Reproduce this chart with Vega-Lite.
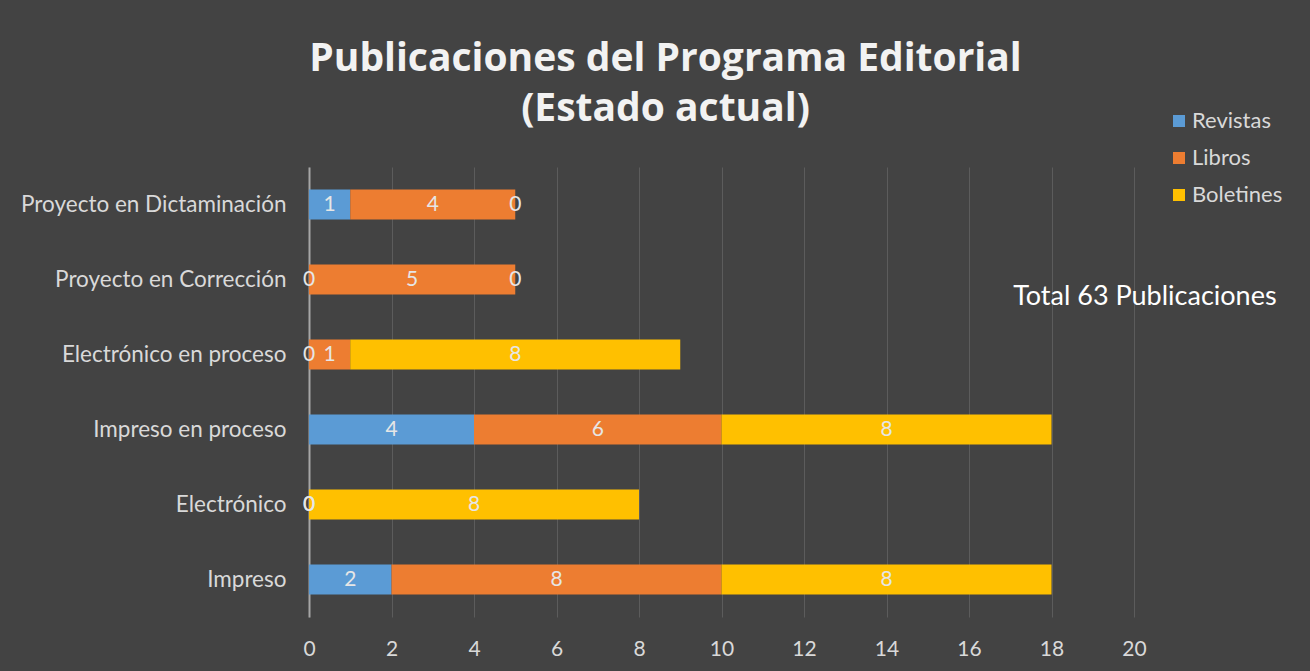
{
  "$schema": "https://vega.github.io/schema/vega-lite/v6.json",
  "width": 825,
  "height": 450,
  "autosize": {"type": "none"},
  "padding": {"left": 309, "top": 167, "right": 176, "bottom": 54},
  "background": "#434343",
  "title": {
    "text": ["Publicaciones del Programa Editorial", "(Estado actual)"],
    "font": "Open Sans",
    "fontWeight": "bold",
    "fontSize": 39,
    "color": "#f2f2f2",
    "anchor": "middle",
    "dx": -56,
    "dy": 59,
    "offset": 40,
    "lineHeight": 50
  },
  "config": {
    "view": {"stroke": null},
    "font": "Lato"
  },
  "layer": [
    {
      "data": {
        "values": [
          {"estado": "Proyecto en Dictaminación", "serie": "Revistas", "value": 1},
          {"estado": "Proyecto en Dictaminación", "serie": "Libros", "value": 4},
          {"estado": "Proyecto en Dictaminación", "serie": "Boletines", "value": 0},
          {"estado": "Proyecto en Corrección", "serie": "Revistas", "value": 0},
          {"estado": "Proyecto en Corrección", "serie": "Libros", "value": 5},
          {"estado": "Proyecto en Corrección", "serie": "Boletines", "value": 0},
          {"estado": "Electrónico en proceso", "serie": "Revistas", "value": 0},
          {"estado": "Electrónico en proceso", "serie": "Libros", "value": 1},
          {"estado": "Electrónico en proceso", "serie": "Boletines", "value": 8},
          {"estado": "Impreso en proceso", "serie": "Revistas", "value": 4},
          {"estado": "Impreso en proceso", "serie": "Libros", "value": 6},
          {"estado": "Impreso en proceso", "serie": "Boletines", "value": 8},
          {"estado": "Electrónico", "serie": "Revistas", "value": 0},
          {"estado": "Electrónico", "serie": "Libros", "value": 0},
          {"estado": "Electrónico", "serie": "Boletines", "value": 8},
          {"estado": "Impreso", "serie": "Revistas", "value": 2},
          {"estado": "Impreso", "serie": "Libros", "value": 8},
          {"estado": "Impreso", "serie": "Boletines", "value": 8}
        ]
      },
      "transform": [
        {"stack": "value", "groupby": ["estado"], "sort": [{"field": "serie", "order": "descending"}], "as": ["v0", "v1"]},
        {"calculate": "(datum.v0 + datum.v1) / 2", "as": "mid"}
      ],
      "layer": [
        {
          "mark": {"type": "bar"},
          "encoding": {
            "y": {
              "field": "estado",
              "type": "nominal",
              "sort": ["Proyecto en Dictaminación", "Proyecto en Corrección", "Electrónico en proceso", "Impreso en proceso", "Electrónico", "Impreso"],
              "scale": {"paddingInner": 0.6, "paddingOuter": 0.3},
              "axis": {
                "title": null,
                "domain": true,
                "domainColor": "#a6a6a6",
                "domainWidth": 2,
                "ticks": false,
                "grid": false,
                "labelFontSize": 22.5,
                "labelColor": "#d9d9d9",
                "labelFont": "Lato",
                "labelPadding": 23,
                "labelLimit": 0
              }
            },
            "x": {
              "field": "v0",
              "type": "quantitative",
              "scale": {"domain": [0, 20], "nice": false},
              "axis": {
                "title": null,
                "values": [0, 2, 4, 6, 8, 10, 12, 14, 16, 18, 20],
                "grid": true,
                "gridColor": "#5c5c5c",
                "domain": false,
                "ticks": false,
                "labelFlush": false,
                "labelFontSize": 21,
                "labelColor": "#d9d9d9",
                "labelFont": "Lato",
                "labelPadding": 21
              }
            },
            "x2": {"field": "v1"},
            "color": {
              "field": "serie",
              "type": "nominal",
              "scale": {"domain": ["Revistas", "Libros", "Boletines"], "range": ["#5b9bd5", "#ed7d31", "#ffc000"]},
              "legend": {
                "orient": "none",
                "legendX": 859,
                "legendY": -57,
                "title": null,
                "symbolType": "square",
                "symbolSize": 144,
                "symbolStrokeWidth": 0,
                "labelFontSize": 22,
                "labelColor": "#d9d9d9",
                "labelFont": "Lato",
                "labelOffset": 2,
                "rowPadding": 15
              }
            }
          }
        },
        {
          "mark": {"type": "text", "fontSize": 21, "color": "#e6e6e6", "font": "Lato"},
          "encoding": {
            "y": {"field": "estado", "type": "nominal", "sort": ["Proyecto en Dictaminación", "Proyecto en Corrección", "Electrónico en proceso", "Impreso en proceso", "Electrónico", "Impreso"]},
            "x": {"field": "mid", "type": "quantitative"},
            "text": {"field": "value", "type": "quantitative"}
          }
        }
      ]
    },
    {
      "data": {"values": [{"t": "Total 63 Publicaciones"}]},
      "mark": {"type": "text", "fontSize": 27, "color": "#ffffff", "font": "Lato", "align": "left", "dy": 17},
      "encoding": {
        "x": {"datum": 17.07, "type": "quantitative"},
        "y": {"datum": "Proyecto en Corrección", "type": "nominal"},
        "text": {"field": "t", "type": "nominal"}
      }
    }
  ]
}
